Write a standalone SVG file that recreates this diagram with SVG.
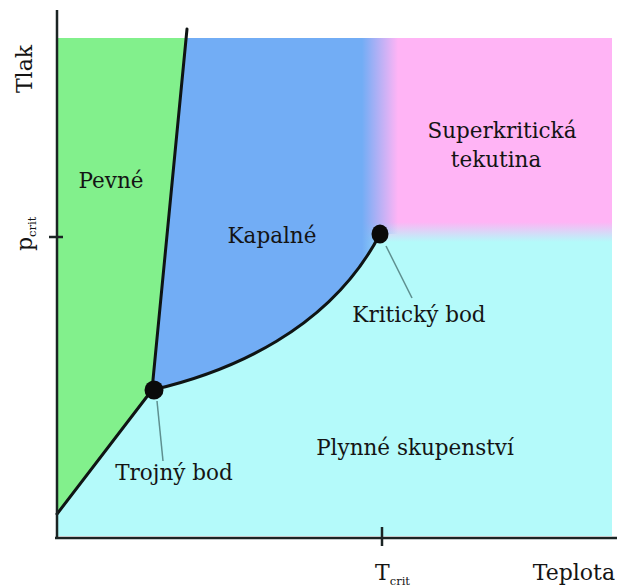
<svg xmlns="http://www.w3.org/2000/svg" width="624" height="588" viewBox="0 0 624 588">
<defs>
<style>
.lbl{font-family:"DejaVu Serif","Liberation Serif",serif;font-size:21.5px;fill:#141414}
.ax{font-family:"DejaVu Serif","Liberation Serif",serif;font-size:22px;fill:#141414}
.sub{font-size:11.5px}
.axis{stroke:#1b2424;stroke-width:2.5;fill:none}
.bound{stroke:#0f1414;stroke-width:3;fill:none;stroke-linecap:round}
.ptr{stroke:#5e8f8f;stroke-width:1.5;fill:none}
</style>
<linearGradient id="pinkFade" gradientUnits="userSpaceOnUse" x1="0" y1="222" x2="0" y2="242">
<stop offset="0" stop-color="#ffb4f5"/>
<stop offset="1" stop-color="#b4fafa"/>
</linearGradient>
<linearGradient id="blueFade" gradientUnits="userSpaceOnUse" x1="362" y1="0" x2="398" y2="0">
<stop offset="0" stop-color="#72adf5" stop-opacity="1"/>
<stop offset="1" stop-color="#72adf5" stop-opacity="0"/>
</linearGradient>
</defs>
<rect width="624" height="588" fill="#ffffff"/>
<g id="regions">
<rect id="gas" x="57" y="38" width="555" height="498" fill="#b4fafa"/>
<rect id="supercritical" x="362" y="38" width="250" height="206" fill="url(#pinkFade)"/>
<path id="liquid" d="M152,390 L185,38 L398,38 L398,234 L380,234 C330,330 230,372 152,390 Z" fill="url(#blueFade)"/>
<path id="solid" d="M57,38 L186,38 L152,390 L57,514 Z" fill="#82f08c"/>
</g>
<g id="connectors">
<path class="bound" d="M187,29 L152,390"/>
<path class="bound" d="M152,390 L57,514"/>
<path class="bound" d="M152,390 C230,372 330,330 380,234"/>
<line class="ptr" x1="157" y1="401" x2="163" y2="461"/>
<line class="ptr" x1="386" y1="246" x2="412" y2="298"/>
</g>
<g id="axes">
<line class="axis" x1="57" y1="10" x2="57" y2="538"/>
<line class="axis" x1="55" y1="538" x2="617" y2="538" stroke-width="3"/>
<line class="axis" x1="49" y1="237" x2="63" y2="237"/>
<line class="axis" x1="382" y1="527" x2="382" y2="546" stroke-width="2"/>
</g>
<g id="triple-point">
<circle cx="154" cy="390" r="9.5" fill="#0a0a0a"/>
<text class="lbl" x="174" y="480" text-anchor="middle">Trojný bod</text>
</g>
<g id="critical-point">
<ellipse cx="380" cy="234" rx="8.5" ry="9.5" fill="#0a0a0a"/>
<text class="lbl" x="419" y="322" text-anchor="middle">Kritický bod</text>
</g>
<g id="label-solid"><text class="lbl" x="111" y="188" text-anchor="middle">Pevné</text></g>
<g id="label-liquid"><text class="lbl" x="272" y="243" text-anchor="middle">Kapalné</text></g>
<g id="label-gas"><text class="lbl" x="415" y="455" text-anchor="middle">Plynné skupenství</text></g>
<g id="label-supercritical">
<text class="lbl" x="502" y="138" text-anchor="middle">Superkritická</text>
<text class="lbl" x="496" y="167" text-anchor="middle">tekutina</text>
</g>
<g id="axis-labels">
<text class="ax" transform="translate(32,69) rotate(-90)" text-anchor="middle">Tlak</text>
<text class="ax" transform="translate(32,251) rotate(-90)">p<tspan class="sub" dy="4">crit</tspan></text>
<text class="ax" x="375" y="580">T<tspan class="sub" dy="5">crit</tspan></text>
<text class="ax" x="615" y="580" text-anchor="end">Teplota</text>
</g>
</svg>
